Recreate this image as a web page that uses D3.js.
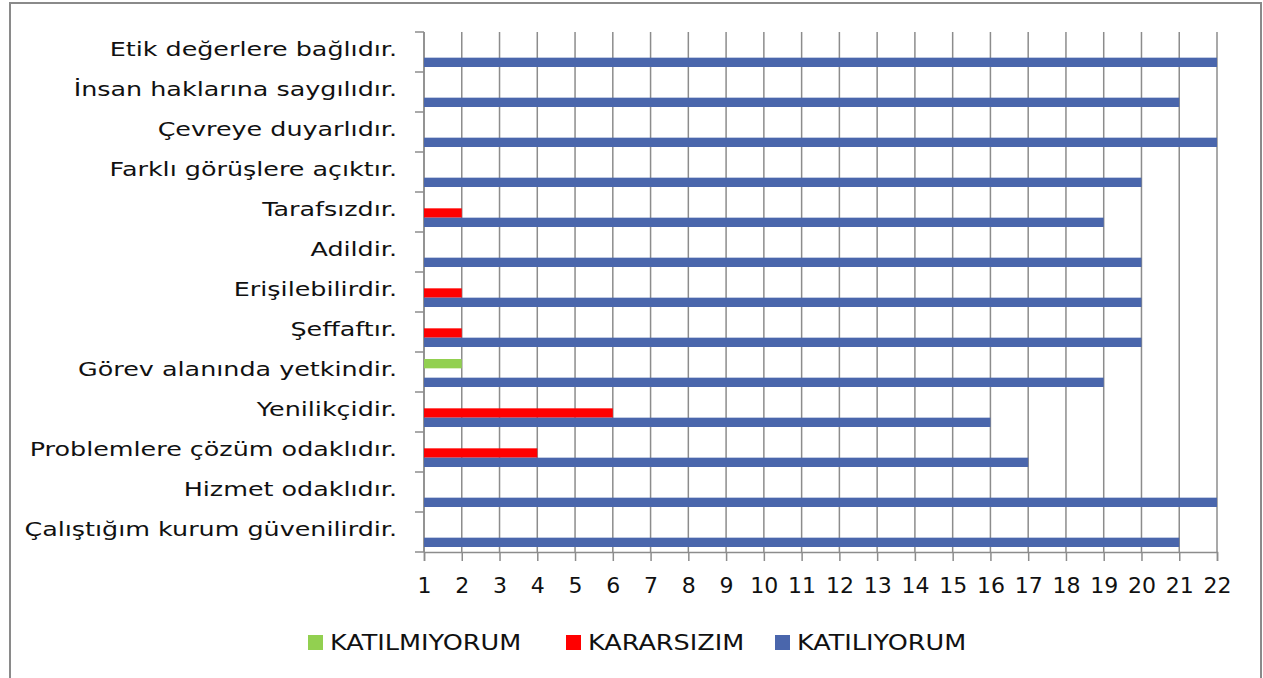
<!DOCTYPE html>
<html>
<head>
<meta charset="utf-8">
<script src="https://cdn.jsdelivr.net/npm/d3@7"></script>
<style>
  html, body { margin: 0; padding: 0; background: #fff; }
  svg text { font-family: "DejaVu Sans", sans-serif; fill: #111; }
</style>
</head>
<body>
<div id="chart"></div>
<script>
// categories top to bottom
const categories = [
  "Etik değerlere bağlıdır.",
  "İnsan haklarına saygılıdır.",
  "Çevreye duyarlıdır.",
  "Farklı görüşlere açıktır.",
  "Tarafsızdır.",
  "Adildir.",
  "Erişilebilirdir.",
  "Şeffaftır.",
  "Görev alanında yetkindir.",
  "Yenilikçidir.",
  "Problemlere çözüm odaklıdır.",
  "Hizmet odaklıdır.",
  "Çalıştığım kurum güvenilirdir."
];

const seriesNames = ["KATILMIYORUM", "KARARSIZIM", "KATILIYORUM"];
const seriesColors = ["#92d050", "#ff0000", "#4a66ac"];

// values per series, same order as categories (0 = no bar)
const katilmiyorum = [0, 0, 0, 0, 0, 0, 0, 0, 2, 0, 0, 0, 0];
const kararsizim   = [0, 0, 0, 0, 2, 0, 2, 2, 0, 6, 4, 0, 0];
const katiliyorum  = [22, 21, 22, 20, 19, 20, 20, 20, 19, 16, 17, 22, 21];

const xTicks = d3.range(1, 23);

const width = 1263, height = 678;
const plot = { left: 424, right: 1217, top: 32, bottom: 552 };

const svg = d3.select("#chart").append("svg")
  .attr("width", width)
  .attr("height", height);

// outer frame (open at the bottom, cut by the page)
svg.append("path")
  .attr("d", "M10,686 V3 H1261 V686")
  .attr("fill", "none")
  .attr("stroke", "#8a8a8a")
  .attr("stroke-width", 2);

const x = d3.scaleLinear().domain([1, 22]).range([plot.left, plot.right]);
const y = d3.scaleBand().domain(categories).range([plot.top, plot.bottom]);
const inner = d3.scaleBand().domain(seriesNames).range([7, 35]);

// vertical gridlines
svg.append("g")
  .selectAll("line")
  .data(xTicks)
  .enter()
  .append("line")
  .attr("x1", d => x(d))
  .attr("x2", d => x(d))
  .attr("y1", plot.top)
  .attr("y2", plot.bottom)
  .attr("stroke", "#8c8c8c")
  .attr("stroke-width", 1.5);

// x axis
const xAxis = svg.append("g")
  .attr("transform", "translate(0," + plot.bottom + ")")
  .call(d3.axisBottom(x).tickValues(xTicks).tickSize(9).tickPadding(16).tickFormat(d3.format("d")));
xAxis.select(".domain").attr("stroke", "#8c8c8c").attr("stroke-width", 1.5);
xAxis.selectAll(".tick line").attr("stroke", "#8c8c8c").attr("stroke-width", 1.5);
xAxis.selectAll("text").style("font-size", "22px").attr("fill", "#111");

// y axis: ticks on band boundaries
const yAxis = svg.append("g");
yAxis.append("line")
  .attr("x1", plot.left).attr("x2", plot.left)
  .attr("y1", plot.top).attr("y2", plot.bottom)
  .attr("stroke", "#8c8c8c").attr("stroke-width", 1.5);
yAxis.selectAll("line.tk")
  .data(categories.map(c => y(c)).concat([plot.bottom]))
  .enter()
  .append("line")
  .attr("class", "tk")
  .attr("x1", plot.left - 9).attr("x2", plot.left)
  .attr("y1", d => d).attr("y2", d => d)
  .attr("stroke", "#8c8c8c").attr("stroke-width", 1.5);
// labels are stretched sideways to get close to the wide original face
yAxis.selectAll("g.lbl")
  .data(categories)
  .enter()
  .append("g")
  .attr("class", "lbl")
  .attr("transform", d => "translate(397," + (y(d) + y.bandwidth() / 2 - 2) + ") scale(1.27,1)")
  .append("text")
  .attr("text-anchor", "end")
  .attr("dominant-baseline", "middle")
  .style("font-size", "20px")
  .text(d => d);

// bars
const seriesData = [katilmiyorum, kararsizim, katiliyorum];
seriesNames.forEach((name, i) => {
  svg.append("g")
    .selectAll("rect")
    .data(seriesData[i].map((v, j) => ({ cat: categories[j], value: v })).filter(d => d.value > 1))
    .enter()
    .append("rect")
    .attr("x", x(1))
    .attr("y", d => y(d.cat) + inner(name))
    .attr("width", d => x(d.value) - x(1))
    .attr("height", inner.bandwidth())
    .attr("fill", seriesColors[i]);
});

// legend
const legendX = [308, 566, 775];
const legend = svg.append("g");
seriesNames.forEach((name, i) => {
  legend.append("rect")
    .attr("x", legendX[i]).attr("y", 635)
    .attr("width", 15).attr("height", 15)
    .attr("fill", seriesColors[i]);
  legend.append("g")
    .attr("transform", "translate(" + (legendX[i] + 22) + ",644) scale(1.16,1)")
    .append("text")
    .attr("dominant-baseline", "middle")
    .style("font-size", "22px")
    .text(name);
});
</script>
</body>
</html>
